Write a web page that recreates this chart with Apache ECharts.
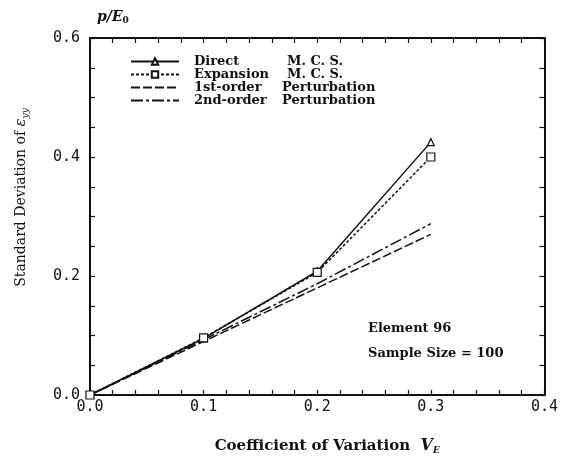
<!DOCTYPE html>
<html>
<head>
<meta charset="utf-8"/>
<title>Standard deviation vs coefficient of variation</title>
<script src="https://cdn.jsdelivr.net/npm/echarts@6/dist/echarts.min.js"></script>
<style>
  html, body { margin: 0; padding: 0; background: #fff; }
  #chart { width: 561px; height: 460px; }
</style>
</head>
<body>
<div id="chart"></div>
<script>
// coefficient of variation V_E
var cov = [0, 0.1, 0.2, 0.3];
// standard deviation of eps_yy (p/E0)
var directMCS    = [0, 0.095, 0.208, 0.425];
var expansionMCS = [0, 0.096, 0.206, 0.400];
var firstOrder   = [0, 0.090, 0.180, 0.270];
var secondOrder  = [0, 0.093, 0.187, 0.288];

var legendSuffix = {
  'Direct': 'M. C. S.',
  'Expansion': 'M. C. S.',
  '1st-order': 'Perturbation',
  '2nd-order': 'Perturbation'
};

function pairs(ys) {
  return cov.map(function (x, i) { return [x, ys[i]]; });
}

var serif = 'DejaVu Serif';
var mono = 'DejaVu Sans Mono';
var ink = '#111';

var myChart = echarts.init(document.getElementById('chart'));

function axis(extra, minorSplit) {
  return Object.assign({
    type: 'value',
    axisLine: { show: true, onZero: false, lineStyle: { color: ink, width: 2 } },
    axisTick: { show: true, inside: true, length: 5, lineStyle: { color: ink, width: 1.2 } },
    minorTick: { show: true, splitNumber: minorSplit, length: 5, lineStyle: { color: ink, width: 1.2 } },
    splitLine: { show: false }
  }, extra);
}

myChart.setOption({
  animation: false,
  backgroundColor: '#fff',
  grid: { left: 90, right: 16, top: 38, bottom: 60 },
  legend: {
    left: 130,
    top: 55,
    padding: 0,
    orient: 'vertical',
    itemWidth: 48,
    itemHeight: 8,
    itemGap: 0,
    data: [
      { name: 'Direct' },
      { name: 'Expansion' },
      { name: '1st-order', itemStyle: { opacity: 0 } },
      { name: '2nd-order', itemStyle: { opacity: 0 } }
    ],
    formatter: function (name) {
      var b = legendSuffix[name] === 'M. C. S.' ? 'b' : 'c';
      return '{a|' + name + '}{' + b + '|' + legendSuffix[name] + '}';
    },
    textStyle: {
      fontFamily: serif,
      fontSize: 13,
      fontWeight: 'bold',
      color: ink,
      rich: {
        a: { fontFamily: serif, fontSize: 13, fontWeight: 'bold', color: ink, width: 93, lineHeight: 13.5, padding: [0, 0, 0, 10] },
        b: { fontFamily: serif, fontSize: 13, fontWeight: 'bold', color: ink, lineHeight: 13.5 },
        c: { fontFamily: serif, fontSize: 13, fontWeight: 'bold', color: ink, lineHeight: 13.5, padding: [0, 0, 0, -5] }
      }
    }
  },
  xAxis: [
    axis({
      position: 'bottom',
      min: 0, max: 0.4, interval: 0.1,
      axisLabel: {
        fontFamily: mono, fontSize: 15, color: ink, margin: 5,
        formatter: function (v) { return v.toFixed(1); }
      },
      name: '{t|Coefficient of Variation  }{v|V}{s|E}',
      nameLocation: 'middle',
      nameGap: 42,
      nameTextStyle: {
        padding: [0, 0, 0, 20],
        rich: {
          t: { fontFamily: serif, fontSize: 15, fontWeight: 'bold', color: ink },
          v: { fontFamily: serif, fontSize: 16, fontStyle: 'italic', fontWeight: 'bold', color: ink },
          s: { fontFamily: serif, fontSize: 9, fontStyle: 'italic', fontWeight: 'bold', color: ink, padding: [9, 0, 0, 0] }
        }
      }
    }, 5),
    axis({
      position: 'top',
      min: 0, max: 0.4, interval: 0.1,
      axisLabel: { show: false }
    }, 5)
  ],
  yAxis: [
    axis({
      position: 'left',
      min: 0, max: 0.6, interval: 0.2,
      axisLabel: {
        fontFamily: mono, fontSize: 15, color: ink, margin: 10,
        formatter: function (v) { return v.toFixed(1); }
      },
      name: '{t|Standard Deviation of }{e|ε}{s|yy}',
      nameLocation: 'middle',
      nameRotate: 90,
      nameGap: 60,
      nameTextStyle: {
        padding: [0, 0, 0, 38],
        rich: {
          t: { fontFamily: serif, fontSize: 14, color: ink },
          e: { fontFamily: serif, fontSize: 15, fontStyle: 'italic', color: ink },
          s: { fontFamily: serif, fontSize: 9, fontStyle: 'italic', color: ink, padding: [8, 0, 0, 0] }
        }
      }
    }, 4),
    axis({
      position: 'right',
      min: 0, max: 0.6, interval: 0.2,
      axisLabel: { show: false }
    }, 4)
  ],
  graphic: [
    {
      type: 'text', left: 97, top: 10,
      style: {
        text: '{p|p/E}{s|0}',
        rich: {
          p: { fontFamily: serif, fontSize: 14, fontStyle: 'italic', fontWeight: 'bold', fill: ink },
          s: { fontFamily: serif, fontSize: 9, fontWeight: 'bold', fill: ink, padding: [8, 0, 0, 0] }
        }
      }
    },
    {
      type: 'text', left: 368, top: 322,
      style: { text: 'Element 96', font: 'bold 13px "DejaVu Serif"', fill: ink }
    },
    {
      type: 'text', left: 368, top: 347,
      style: { text: 'Sample Size = 100', font: 'bold 13px "DejaVu Serif"', fill: ink }
    }
  ],
  series: [
    {
      name: 'Direct', type: 'line', data: pairs(directMCS),
      symbol: 'triangle', symbolSize: 7,
      itemStyle: { color: '#fff', borderColor: ink, borderWidth: 1.2 },
      lineStyle: { color: ink, width: 1.5, type: 'solid' },
      z: 4
    },
    {
      name: 'Expansion', type: 'line', data: pairs(expansionMCS),
      symbol: 'rect', symbolSize: 8,
      itemStyle: { color: '#fff', borderColor: ink, borderWidth: 1.2 },
      lineStyle: { color: ink, width: 1.5, type: [3, 2] },
      z: 5
    },
    {
      name: '1st-order', type: 'line', data: pairs(firstOrder),
      symbol: 'none',
      itemStyle: { color: ink },
      lineStyle: { color: ink, width: 1.5, type: [9, 3] }
    },
    {
      name: '2nd-order', type: 'line', data: pairs(secondOrder),
      symbol: 'none',
      itemStyle: { color: ink },
      lineStyle: { color: ink, width: 1.5, type: [12, 3, 3, 3] }
    }
  ]
});
</script>
</body>
</html>
